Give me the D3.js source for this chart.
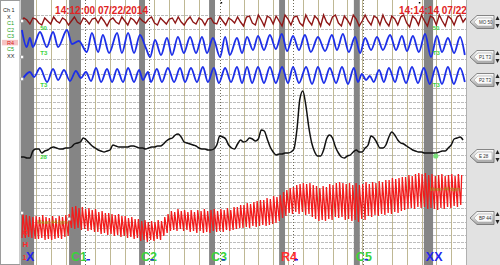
<!DOCTYPE html>
<html>
<head>
<meta charset="utf-8">
<script src="https://cdn.jsdelivr.net/npm/d3@7"></script>
<style>
  body { margin: 0; background: #fff; }
  svg { display: block; font-family: Arial, "Liberation Sans", sans-serif; }
</style>
</head>
<body>
<div id="chart"></div>
<script>
// ---- data (time in seconds from the left edge of the strip) ----
var events      = ["X", "C1", "C2", "C3", "R4", "C5", "XX"];
var eventStart  = [0, 16.2, 39.8, 63.4, 87.0, 112.2, 135.8];
var eventEnd    = [4.4, 20.2, 41.8, 65.4, 89.0, 114.2, 138.9];
var eventMark   = [null, 21.6, 43.1, 67.1, 91.7, 115.3, null];

var stampText = ["14:12:00 07/22/2014", "14:14:14 07/22/2014"];
var stampTime = [11.5, 127.4];

var listItems = ["Ch 1", "X", "C1", "C2", "C3", "R4", "C5", "XX"];
var channelNames = ["MO 50", "P1 T3", "P2 T3", "E 28", "BP 44"];

// upper pneumo trace, one value per second
var pneumo = [6,10,8,4,10,9,5,3,10,7,4,11,7,5,10,8,3,7,11,6,
  4,10,8,4,9,10,5,11,7,2,8,10,6,4,11,7,3,10,8,4,
  10,7,5,9,11,5,3,10,7,4,9,10,5,11,6,3,8,11,6,4,
  10,8,3,9,10,5,4,11,7,3,10,8,5,11,6,2,11,12,5,3,
  13,8,2,12,10,4,12,7,2,13,9,3,11,12,5,2,13,7,3,12,
  9,2,13,6,3,11,13,5,2,12,8,3,13,9,2,7,13,7,3,12,
  10,3,13,6,2,12,9,3,11,13,5,1,12,9,3,13,7,2,12,10,
  3,13,7,2,12,9,3,11,13,6,10];

// respiration traces: [time, value] at each peak / trough
var resp1 = [[0.3,28],[1.9,11],[3.0,20],[4.0,11],[6.4,26],[8.7,11],[10.8,26],[12.5,11],
  [15.5,28],[17.2,14],[19.5,17],[22.2,6],[23.9,25],[26.0,6],[27.6,23],[29.7,5],
  [32.4,25],[34.0,5],[36.1,25],[38.1,5],[40.1,23],[42.1,10],[43.5,1],[45.2,18],
  [47.2,3],[49.2,20],[50.9,3],[52.9,21],[54.9,5],[57.0,21],[59.0,5],[61.0,21],
  [62.7,5],[64.7,20],[67.1,1],[68.8,21],[70.4,3],[72.8,20],[74.5,5],[76.2,21],
  [78.2,8],[79.9,22],[81.9,8],[83.9,23],[85.9,9],[87.9,24],[89.7,7],[91.7,22],
  [93.7,8],[95.7,23],[97.7,6],[100.1,21],[102.5,7],[104.8,23],[106.5,8],[108.5,24],
  [110.5,6],[112.6,21],[114.3,5],[116.0,20],[118.0,8],[120.0,21],[122.0,8],[124.4,23],
  [126.4,8],[128.4,22],[130.1,7],[132.1,22],[134.1,6],[136.2,24],[138.2,1],[140.2,22],
  [141.9,6],[143.9,20],[146.0,5],[148.0,21],[149.6,3]];

var resp2 = [[0.3,6],[3.0,14],[4.4,9],[6.4,18],[8.8,4],[10.8,17],[12.5,6],[14.5,16],
  [16.5,5],[18.5,15],[20.2,8],[21.9,14],[23.6,5],[25.3,18],[27.0,4],[29.0,17],
  [30.7,4],[32.4,17],[34.4,4],[36.1,18],[38.1,4],[39.8,16],[41.1,6],[42.8,14],
  [43.8,4],[45.8,17],[47.5,4],[49.5,18],[51.6,4],[53.6,18],[55.3,4],[57.3,18],
  [59.3,4],[61.3,19],[63.0,4],[65.0,18],[66.7,3],[68.8,18],[70.8,4],[72.8,19],
  [74.5,3],[76.2,19],[77.9,3],[79.9,19],[81.9,3],[83.9,19],[85.9,3],[88.0,19],
  [90.0,3],[91.7,19],[93.7,3],[96.1,19],[98.1,2],[100.1,19],[102.1,3],[104.1,18],
  [106.2,3],[108.2,19],[110.2,2],[112.2,18],[113.6,4],[114.9,12],[116.3,6],[117.6,10],
  [118.9,4],[120.7,16],[122.3,4],[124.0,18],[126.1,4],[127.7,19],[129.8,3],[131.8,19],
  [133.8,3],[135.8,18],[137.8,2],[139.9,19],[141.9,2],[143.9,19],[145.9,2],[148.0,18],
  [149.6,4]];

// electrodermal trace, one value per second
var eda = [3,3,2,2,9,11,11,7,9,10,12,13,12,11,11,12,12,13,16,17,
  18,22,20,17,14,12,10,9,8,9,10,15,14,13,13,13,13,14,14,13,
  12,12,11,12,13,13,14,14,16,19,21,22,25,26,23,18,17,16,15,14,
  12,11,11,10,10,11,15,24,23,21,15,12,11,16,20,18,19,22,21,19,
  21,30,29,21,13,8,5,6,6,7,7,8,11,30,61,69,55,33,17,8,
  4,4,10,21,25,22,13,7,3,2,4,5,8,10,8,8,12,15,24,22,
  17,12,12,15,23,28,25,20,17,16,14,12,10,9,8,8,7,7,7,7,
  7,8,9,9,12,15,21,22,23,20];

// cardio: one systolic and one diastolic value per beat
var cardioStart = 0.34, cardioBeat = 1.112;
var cardioSys = [37,35,34,33,34,33,35,33,32,34,32,34,33,35,36,43,44,42,43,41,
  42,40,41,38,39,37,37,36,35,36,34,34,32,33,31,31,29,30,28,29,
  28,30,29,33,36,39,38,41,39,40,38,40,38,40,39,41,39,40,41,39,
  41,40,42,40,43,43,45,45,47,46,48,49,50,50,52,51,54,53,55,58,
  60,62,63,65,66,67,66,67,65,64,62,64,63,66,65,67,68,67,66,67,
  65,67,65,66,68,66,68,67,69,68,70,70,72,71,72,73,73,75,74,76,
  77,76,77,75,76,74,75,76,74,75,76,74,76,75];
var cardioDia = [12,12,13,12,11,11,12,10,11,10,11,12,11,13,14,22,21,22,20,21,
  19,20,18,18,16,17,15,16,14,15,13,14,12,13,11,12,9,10,8,10,
  9,11,10,14,17,19,20,19,21,19,20,18,19,17,19,17,18,17,19,18,
  19,18,20,19,20,21,22,22,23,22,24,23,24,25,24,25,26,27,29,32,
  34,37,36,38,36,38,35,36,33,31,29,30,29,31,30,33,32,33,30,31,
  29,30,28,31,30,34,33,35,34,36,35,37,36,38,37,39,40,41,42,41,
  43,42,43,41,42,41,40,42,41,43,42,44,43,45];

// ---- layout ----
var W = 500, H = 265;
var left = 21, right = 466;

var x = d3.scaleLinear().domain([0, 150]).range([left, right]);
var yPneumo = d3.scaleLinear().domain([0, 16]).range([28, 12]);
var yResp1 = d3.scaleLinear().domain([0, 30]).range([58, 28]);
var yResp2 = d3.scaleLinear().domain([0, 22]).range([86, 64]);
var yEda = d3.scaleLinear().domain([0, 75]).range([160, 85]);
var yCardio = d3.scaleLinear().domain([0, 100]).range([250, 150]);

function eventColor(name) {
    if (name[0] == "R") return "#ff3030";
    if (name[0] == "C") return "#3ad23a";
    return "#2424f0";
}

var svg = d3.select("#chart").append("svg")
    .attr("width", W)
    .attr("height", H);

var defs = svg.append("defs");
defs.append("clipPath").attr("id", "plot")
    .append("rect")
    .attr("x", left).attr("y", 0)
    .attr("width", right - left).attr("height", H);

var grad = defs.append("linearGradient").attr("id", "btn")
    .attr("x1", 0).attr("y1", 0).attr("x2", 0).attr("y2", 1);
grad.append("stop").attr("offset", "0%").attr("stop-color", "#ffffff");
grad.append("stop").attr("offset", "100%").attr("stop-color", "#a8a8a8");

svg.append("rect").attr("width", W).attr("height", H).attr("fill", "#fff");

// grid
var grid = svg.append("g");
var hLines = d3.range(1, 7).map(function(k) { return k * 14.7; })
    .concat(d3.range(95, 250, 6.67));
grid.selectAll(".h").data(hLines).join("line")
    .attr("x1", left).attr("x2", right)
    .attr("y1", function(d) { return Math.round(d) + 0.5; })
    .attr("y2", function(d) { return Math.round(d) + 0.5; })
    .attr("stroke", "#bdbdbd")
    .attr("stroke-dasharray", "3,1");
grid.selectAll(".v").data(d3.range(5, 150, 5)).join("line")
    .attr("x1", function(d) { return Math.round(x(d)) + 0.5; })
    .attr("x2", function(d) { return Math.round(x(d)) + 0.5; })
    .attr("y1", 0).attr("y2", H)
    .attr("stroke", "#bfb894");

// event bars
var ev = events.map(function(name, i) {
    return { name: name, start: eventStart[i], end: eventEnd[i], mark: eventMark[i] };
});
svg.append("g").selectAll("rect").data(ev).join("rect")
    .attr("x", function(d) { return x(d.start); })
    .attr("width", function(d) { return x(d.end) - x(d.start); })
    .attr("y", 0).attr("height", H)
    .attr("fill", "#858585");

var marks = ev.filter(function(d) { return d.mark != null; });
svg.append("g").selectAll("line").data(marks).join("line")
    .attr("x1", function(d) { return Math.round(x(d.mark)) + 0.5; })
    .attr("x2", function(d) { return Math.round(x(d.mark)) + 0.5; })
    .attr("y1", 0).attr("y2", H)
    .attr("stroke", "#6e6a58")
    .attr("stroke-dasharray", "1,2");

// timestamps
svg.append("g").attr("clip-path", "url(#plot)")
    .selectAll("text").data(stampText).join("text")
    .attr("x", function(d, i) { return x(stampTime[i]); })
    .attr("y", 14)
    .attr("fill", "#e02424")
    .attr("font-size", 10)
    .attr("font-weight", "bold")
    .text(function(d) { return d; });

// traces
var traces = svg.append("g").attr("clip-path", "url(#plot)");

traces.append("path")
    .attr("d", d3.line()
        .x(function(d, i) { return x(i); })
        .y(function(d) { return yPneumo(d); })(pneumo))
    .attr("fill", "none").attr("stroke", "#8e1616").attr("stroke-width", 1.4);

var respLine = function(yScale) {
    return d3.line()
        .curve(d3.curveMonotoneX)
        .x(function(d) { return x(d[0]); })
        .y(function(d) { return yScale(d[1]); });
};
traces.append("path").attr("d", respLine(yResp1)(resp1))
    .attr("fill", "none").attr("stroke", "#1c2ee8").attr("stroke-width", 1.8);
traces.append("path").attr("d", respLine(yResp2)(resp2))
    .attr("fill", "none").attr("stroke", "#1c2ee8").attr("stroke-width", 1.8);

traces.append("path")
    .attr("d", d3.line()
        .curve(d3.curveMonotoneX)
        .x(function(d, i) { return x(i); })
        .y(function(d) { return yEda(d); })(eda))
    .attr("fill", "none").attr("stroke", "#111").attr("stroke-width", 1.5);

var cardioPts = [];
cardioSys.forEach(function(s, i) {
    var t = cardioStart + i * cardioBeat;
    cardioPts.push([t, cardioDia[i]]);
    cardioPts.push([t + 0.3, s]);
});
traces.append("path")
    .attr("d", d3.line()
        .x(function(d) { return x(d[0]); })
        .y(function(d) { return yCardio(d[1]); })(cardioPts))
    .attr("fill", "none").attr("stroke", "#f21c1c").attr("stroke-width", 1.3);

// start markers
var markers = [[0.3, yPneumo(7)], [0.3, yResp1(1)], [0.3, yResp2(7)],
    [0.3, yCardio(37)], [16.2, yCardio(31)]];
svg.append("g").selectAll("circle").data(markers).join("circle")
    .attr("cx", function(d) { return x(d[0]); })
    .attr("cy", function(d) { return d[1]; })
    .attr("r", 1.8)
    .attr("fill", "#fff").attr("stroke", "#999").attr("stroke-width", 0.8);

// small channel tags near the traces
var tagG = svg.append("g").attr("fill", "#3cd43c").attr("font-size", 6).attr("font-weight", "bold");
var tagText = ["50", "T3", "T3", "28"];
var tagY = [yPneumo(0) + 2, yResp1(5) + 2, yResp2(0) + 1, yEda(3) + 2];
[6.5, 138.8].forEach(function(t, k) {
    tagText.forEach(function(txt, i) {
        if (k == 1 && i == 3) return;
        tagG.append("text").attr("x", x(t)).attr("y", tagY[i]).text(txt);
    });
});
svg.append("circle").attr("cx", x(138.8) + 3).attr("cy", yEda(4))
    .attr("r", 2.6).attr("fill", "#7be07b");
svg.append("text").attr("x", x(5.6)).attr("y", yCardio(26))
    .attr("font-size", 5).attr("fill", "#9a9a10").text("Mean 44 bpm");
svg.append("text").attr("x", x(137.8)).attr("y", yCardio(59))
    .attr("font-size", 5).attr("fill", "#9a9a10").text("Mean 44 bpm");

// cardio side letters
var sideG = svg.append("g").attr("fill", "#ff2a2a").attr("font-weight", "bold");
sideG.append("text").attr("x", 22.5).attr("y", 235).attr("font-size", 8).text("C");
sideG.append("text").attr("x", 22.5).attr("y", 247).attr("font-size", 8).text("H");
sideG.append("text").attr("x", 22.5).attr("y", 260).attr("font-size", 7).text("1");

// event labels
svg.append("g").selectAll("text").data(ev).join("text")
    .attr("x", function(d, i) { return x(d.start) + (i == 0 ? 5 : 2); })
    .attr("y", 261)
    .attr("font-size", 12.5)
    .attr("font-weight", "bold")
    .attr("fill", function(d) { return eventColor(d.name); })
    .text(function(d) { return d.name; });
svg.append("g").selectAll("rect").data(marks).join("rect")
    .attr("x", function(d) { return x(d.mark) + 1.5; })
    .attr("y", 259).attr("width", 3.5).attr("height", 1.5)
    .attr("fill", "#2424f0");

// top markers
svg.append("g").selectAll("rect").data([67.3, 134.1]).join("rect")
    .attr("x", function(d) { return x(d); }).attr("y", 2)
    .attr("width", 1.5).attr("height", 1.5).attr("fill", "#000");

// left list panel
var panel = svg.append("g");
panel.append("rect").attr("x", 0.5).attr("y", 0.5).attr("width", 19.5).attr("height", H - 1)
    .attr("fill", "#fff").attr("stroke", "#9a9a9a");
var rowY = d3.scalePoint().domain(listItems).range([10, 56]);
panel.append("rect").attr("x", 2).attr("y", rowY("R4") - 3).attr("width", 16).attr("height", 5.5)
    .attr("fill", "#f6c4c4");
panel.selectAll("text").data(listItems).join("text")
    .attr("x", function(d) { return d == "Ch 1" ? 3 : 7; })
    .attr("y", function(d) { return rowY(d) + 2; })
    .attr("font-size", 5.5)
    .attr("fill", function(d) {
        if (d == "R4") return "#d81818";
        if (d[0] == "C" && d != "Ch 1") return "#18a018";
        return "#222";
    })
    .text(function(d) { return d; });

// right side control strip
svg.append("rect").attr("x", right).attr("y", 0).attr("width", W - right).attr("height", H)
    .attr("fill", "#e2e2e2");
svg.append("line").attr("x1", right + 0.5).attr("x2", right + 0.5).attr("y1", 0).attr("y2", H)
    .attr("stroke", "#b0b0b0");
var btnY = d3.scaleOrdinal().domain(channelNames)
    .range([yPneumo(6), yResp1(1), yResp2(6), yEda(4), yCardio(32)]);
var btn = svg.append("g").selectAll("g").data(channelNames).join("g")
    .attr("transform", function(d) { return "translate(0," + btnY(d) + ")"; });
btn.append("path")
    .attr("d", "M470,0 L477,-6.5 L494,-6.5 L494,6.5 L477,6.5 Z")
    .attr("fill", "url(#btn)").attr("stroke", "#6a6a6a").attr("stroke-width", 0.8);
btn.append("path")
    .attr("d", "M474,0 L478,-4 L492,-4 L492,4 L478,4 Z")
    .attr("fill", "#fafafa").attr("stroke", "#9a9a9a").attr("stroke-width", 0.5);
btn.append("text").attr("x", 479).attr("y", 1.8).attr("font-size", 4.5).attr("fill", "#333")
    .text(function(d) { return d; });
btn.append("path").attr("d", "M495.5,-2 L497.5,-6 L499.5,-2 Z").attr("fill", "#222");
btn.append("path").attr("d", "M495.5,2 L497.5,6 L499.5,2 Z").attr("fill", "#222");
</script>
</body>
</html>
